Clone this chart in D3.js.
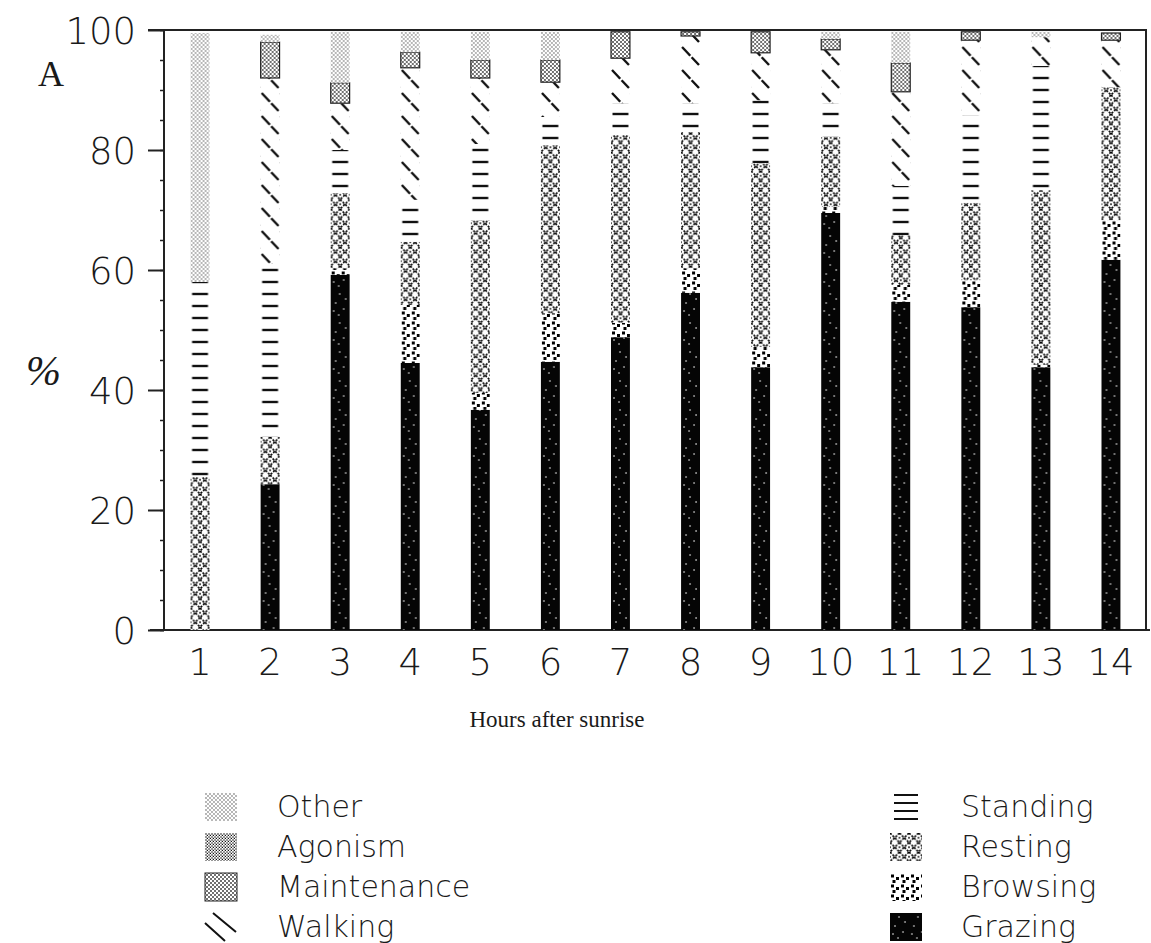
<!DOCTYPE html>
<html>
<head>
<meta charset="utf-8">
<script src="https://cdn.jsdelivr.net/npm/d3@7"></script>
<style>
  body { margin: 0; background: #fff; }
  .sans { font-family: "DejaVu Sans", sans-serif; font-weight: 200; fill: #1a1a1a; }
  .serif { font-family: "Liberation Serif", "DejaVu Serif", serif; fill: #1a1a1a; }
</style>
</head>
<body>
<div id="chart"></div>
<script>
// hours after sunrise
const hours = [1, 2, 3, 4, 5, 6, 7, 8, 9, 10, 11, 12, 13, 14];

// % of time per activity (stacked bottom -> top)
const grazing     = [0, 24.3, 59.2, 44.5, 36.7, 44.7, 48.8, 56.2, 43.8, 69.5, 54.7, 53.8, 43.8, 61.7];
const browsing    = [0, 0, 1.1, 9.7, 2.8, 8.1, 2.4, 4.1, 3.4, 1.0, 2.8, 4.5, 0.4, 6.6];
const resting     = [25.5, 7.9, 12.5, 10.5, 28.8, 28.0, 31.3, 22.7, 30.6, 11.7, 8.3, 12.9, 29.1, 22.2];
const standing    = [32.5, 28.8, 7.2, 7.0, 12.7, 4.7, 5.3, 4.8, 10.5, 5.6, 8.2, 14.6, 20.7, 0];
const walking     = [0, 31.0, 7.8, 22.0, 11.0, 5.8, 7.5, 11.2, 7.9, 8.9, 15.7, 12.5, 4.8, 7.8];
const maintenance = [0, 6.0, 3.4, 2.6, 3.0, 3.7, 4.4, 0.7, 3.5, 1.8, 4.8, 1.4, 0, 1.2];
const agonism     = [0, 0, 0, 0, 0, 0, 0, 0, 0, 0, 0, 0, 0, 0];
const other       = [41.5, 1.2, 8.5, 3.4, 4.7, 4.7, 0, 0, 0, 1.2, 5.2, 0, 0.9, 0];

const yTicks = [0, 20, 40, 60, 80, 100];
const minorTicks = d3.range(0, 101, 5);

const seriesKeys = ["Grazing", "Browsing", "Resting", "Standing", "Walking", "Maintenance", "Agonism", "Other"];
const seriesVals = [grazing, browsing, resting, standing, walking, maintenance, agonism, other];

const rows = hours.map((h, i) => {
  const r = { hour: h };
  seriesKeys.forEach((k, j) => r[k] = seriesVals[j][i]);
  return r;
});

const W = 1151, H = 943;
const svg = d3.select("#chart").append("svg")
  .attr("width", W).attr("height", H);

const x = d3.scaleBand().domain(hours).range([165, 1146])
  .paddingInner(0.73).paddingOuter(0.365);
const y = d3.scaleLinear().domain([0, 100]).range([630, 30]);
const bw = x.bandwidth();

// ---- fill patterns ----
const defs = svg.append("defs");
function pattern(id, w, h) {
  const p = defs.append("pattern").attr("id", id)
    .attr("patternUnits", "userSpaceOnUse").attr("width", w).attr("height", h);
  p.append("rect").attr("width", w).attr("height", h).attr("fill", "#fff");
  return p;
}
// Other: light stipple
let p = pattern("p-other", 4, 4);
[[1, 1], [3, 3]].forEach(d => p.append("circle").attr("cx", d[0]).attr("cy", d[1]).attr("r", 0.65).attr("fill", "#333"));
// Agonism: denser stipple
p = pattern("p-agonism", 3, 3);
[[1, 1], [2.5, 2.5]].forEach(d => p.append("circle").attr("cx", d[0]).attr("cy", d[1]).attr("r", 0.8).attr("fill", "#111"));
// Maintenance: dense cross texture
p = pattern("p-maint", 4, 4);
p.append("path").attr("d", "M0,0L4,4M4,0L0,4").attr("stroke", "#333").attr("stroke-width", 0.7);
// Walking: "\" lines
p = pattern("p-walk", bw, 23);
p.append("path").attr("d", `M1,1L${bw - 1},19`).attr("stroke", "#111").attr("stroke-width", 2.4).attr("stroke-dasharray", "12,2");
// Standing: horizontal dashes
p = pattern("p-stand", bw, 12);
p.append("path").attr("d", `M1.5,6H${bw - 1.5}`).attr("stroke", "#111").attr("stroke-width", 2.4);
// Resting: dotted cross-hatch
p = pattern("p-rest", 9.5, 9.5);
p.append("path").attr("d", "M0,0L9.5,9.5M9.5,0L0,9.5").attr("stroke", "#000").attr("stroke-width", 1.6).attr("stroke-dasharray", "2.2,1.3");
p.append("circle").attr("cx", 0).attr("cy", 4.75).attr("r", 0.9).attr("fill", "#000");
p.append("circle").attr("cx", 9.5).attr("cy", 4.75).attr("r", 0.9).attr("fill", "#000");
// Browsing: sparse large dots
p = pattern("p-browse", 10, 10);
[[1, 1.5], [6, 4], [2.5, 7]].forEach(d => p.append("rect").attr("x", d[0]).attr("y", d[1]).attr("width", 3).attr("height", 3).attr("fill", "#000"));
// Grazing: black with white specks
p = pattern("p-graze", bw, 29);
p.select("rect").attr("fill", "#050505");
[[9, 4], [5, 13], [13, 19], [8, 25], [15, 9], [3, 21]].forEach(d => p.append("circle").attr("cx", d[0]).attr("cy", d[1]).attr("r", 0.8).attr("fill", "#fff"));

const fills = {
  Grazing: "url(#p-graze)", Browsing: "url(#p-browse)", Resting: "url(#p-rest)",
  Standing: "url(#p-stand)", Walking: "url(#p-walk)", Maintenance: "url(#p-maint)",
  Agonism: "url(#p-agonism)", Other: "url(#p-other)"
};

// ---- axes ----
svg.append("g").attr("transform", "translate(164,0)")
  .call(d3.axisLeft(y).tickValues(minorTicks).tickSize(4).tickFormat(""))
  .call(g => g.select(".domain").remove())
  .selectAll("line").attr("stroke", "#222").attr("stroke-width", 1.5);

const yAxis = svg.append("g").attr("transform", "translate(164,0)")
  .call(d3.axisLeft(y).tickValues(yTicks).tickSize(16).tickPadding(12));
yAxis.select(".domain").attr("stroke", "#222").attr("stroke-width", 2).attr("d", "M0,30V630");
yAxis.selectAll("line").attr("stroke", "#222").attr("stroke-width", 2);
yAxis.selectAll("text").attr("class", "sans").attr("font-size", 37).attr("dy", "0.36em");

const xAxis = svg.append("g").attr("transform", "translate(0,630)")
  .call(d3.axisBottom(x).tickSize(0).tickPadding(0));
xAxis.select(".domain").remove();
xAxis.selectAll("text").attr("class", "sans").attr("font-size", 37).attr("y", 45).attr("dy", 0);

// frame
svg.append("path").attr("d", "M148,30H1146V630").attr("fill", "none").attr("stroke", "#222").attr("stroke-width", 2);
svg.append("path").attr("d", "M150,630H1150").attr("fill", "none").attr("stroke", "#222").attr("stroke-width", 2);

// ---- stacked bars ----
const stacked = d3.stack().keys(seriesKeys)(rows);
const bars = svg.append("g").selectAll("g.bar").data(hours).join("g")
  .attr("class", "bar").attr("transform", h => `translate(${x(h)},0)`);

bars.each(function (h, i) {
  const g = d3.select(this);
  stacked.forEach(s => {
    const seg = s[i];
    if (seg[1] - seg[0] <= 0) return;
    g.append("rect").attr("x", 0).attr("width", bw)
      .attr("y", y(seg[1])).attr("height", y(seg[0]) - y(seg[1]))
      .attr("fill", fills[s.key])
      .attr("stroke", s.key === "Maintenance" ? "#222" : "none")
      .attr("stroke-width", 1.2);
  });
});

// ---- labels ----
svg.append("text").attr("class", "serif").attr("x", 38).attr("y", 86).attr("font-size", 36).text("A");
svg.append("text").attr("class", "serif").attr("x", 26).attr("y", 385).attr("font-size", 42).attr("font-style", "italic").text("%");
svg.append("text").attr("class", "serif").attr("x", 557).attr("y", 727).attr("font-size", 23)
  .attr("text-anchor", "middle").text("Hours after sunrise");

// ---- legend ----
const legendLeft = ["Other", "Agonism", "Maintenance", "Walking"];
const legendRight = ["Standing", "Resting", "Browsing", "Grazing"];
const rowY = [817, 857, 897, 937];

function symbol(g, key, sx, sy) {
  const s = g.append("g").attr("transform", `translate(${sx},${sy})`);
  if (key === "Walking") {
    s.append("path").attr("d", "M8,0L31,19M0,10L20,28").attr("stroke", "#111").attr("stroke-width", 2).attr("fill", "none");
  } else if (key === "Standing") {
    s.append("path").attr("d", "M4,2H28M4,10H28M4,18H28M4,26H28").attr("stroke", "#111").attr("stroke-width", 1.8);
  } else {
    s.append("rect").attr("width", 32).attr("height", 28).attr("fill", fills[key])
      .attr("stroke", key === "Maintenance" ? "#222" : "none");
  }
}

const leg = svg.append("g");
legendLeft.forEach((k, i) => {
  symbol(leg, k, 205, rowY[i] - 24);
  leg.append("text").attr("class", "sans").attr("x", 277).attr("y", rowY[i]).attr("font-size", 30).text(k);
});
legendRight.forEach((k, i) => {
  symbol(leg, k, 890, rowY[i] - 24);
  leg.append("text").attr("class", "sans").attr("x", 961).attr("y", rowY[i]).attr("font-size", 30).text(k);
});
</script>
</body>
</html>
